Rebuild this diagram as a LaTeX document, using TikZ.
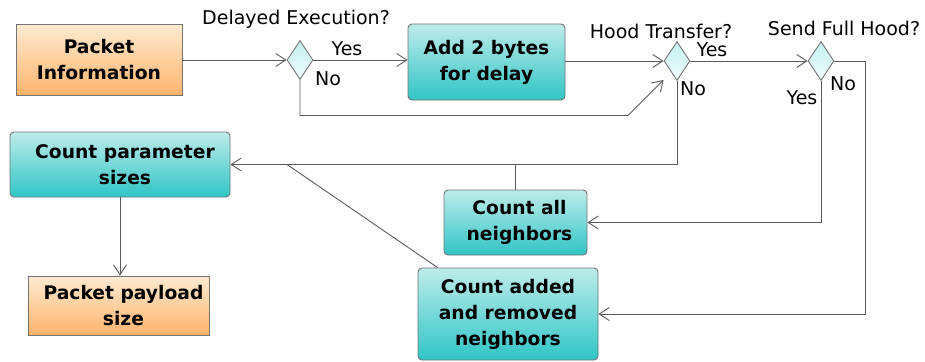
\documentclass[tikz,border=0pt]{standalone}
\usepackage{fontspec}
\setmainfont{DejaVu Sans}
\usetikzlibrary{shapes.geometric,arrows.meta,calc}
\definecolor{lineg}{HTML}{5A5A5A}
\definecolor{tealtop}{HTML}{BDECEA}
\definecolor{tealbot}{HTML}{30C5C6}
\definecolor{orgtop}{HTML}{FFEBD0}
\definecolor{orgbot}{HTML}{FDB46C}
\definecolor{dtop}{HTML}{C2EFEF}
\definecolor{dbot}{HTML}{F2FDFD}
\tikzset{
  procbox/.style={draw=lineg!85, line width=0.9pt, rounded corners=4pt, top color=tealtop, bottom color=tealbot, align=center, font=\fontsize{18.7}{26}\selectfont\bfseries, inner sep=0pt},
  databox/.style={draw=lineg!85, line width=0.9pt, top color=orgtop, bottom color=orgbot, align=center, font=\fontsize{18.7}{26}\selectfont\bfseries, inner sep=0pt},
  decision/.style={diamond, draw=lineg!85, line width=0.9pt, top color=dtop, bottom color=dbot, inner sep=0pt, minimum width=26pt, minimum height=39pt},
  lbl/.style={font=\fontsize{19}{22}\selectfont, inner sep=0pt},
  conn/.style={draw=lineg, line width=0.9pt},
  arr/.style={conn, -{Straight Barb[length=10pt,width=13pt,line width=0.9pt]}}
}
\begin{document}
\begin{tikzpicture}[x=1pt,y=-1pt]
\useasboundingbox (0,0) rectangle (925,361);
% boxes
\node[databox, minimum width=166pt, minimum height=71pt] (pi) at (99,60) {Packet\\Information};
\node[procbox, minimum width=157pt, minimum height=76pt] (add) at (486.5,62) {Add 2 bytes\\for delay};
\node[procbox, minimum width=220pt, minimum height=65pt] (cps) at (120,164.5) {\hspace*{10pt}Count parameter\\\hspace*{10pt}sizes};
\node[procbox, minimum width=143pt, minimum height=65pt] (call) at (515.5,222.5) {\hspace*{8pt}Count all\\\hspace*{8pt}neighbors};
\node[procbox, minimum width=180pt, minimum height=92pt] (cadd) at (508,314) {Count added\\and removed\\neighbors};
\node[databox, minimum width=181pt, minimum height=59pt] (pps) at (118.5,305.5) {\hspace*{10pt}Packet payload\\\hspace*{10pt}size};
% decisions
\node[decision] (d1) at (300,60) {};
\node[decision] (d2) at (677,61) {};
\node[decision] (d3) at (821,61) {};
% labels
\node[lbl] (l1) at (296,19) {Delayed Execution?};
\node[lbl] (l1y) at (347,49) {Yes};
\node[lbl] (l1n) at (328,79) {No};
\node[lbl] (l2) at (661,31) {Hood Transfer?};
\node[lbl] (l2y) at (712,50) {Yes};
\node[lbl] (l2n) at (693,89) {No};
\node[lbl] (l3) at (844,28) {Send Full Hood?};
\node[lbl] (l3n) at (843,84) {No};
\node[lbl] (l3y) at (802,98) {Yes};
% helper coordinates
\coordinate (nb) at (628,115.5);
\coordinate (rt) at (865,0);
\coordinate (jn) at (287,0);
% connectors
\draw[arr] (pi.east) -- (d1.west);
\draw[arr] (d1.east) -- (d1.east -| add.west);
\draw[arr] (d1.south) |- (nb) -- ($(d2.west |- d2.south)+(0,-1)$);
\draw[arr] (add.east |- d2.west) -- (d2.west);
\draw[arr] (d2.east) -- (d3.west);
\draw[arr] (d3.east) -- (d3.east -| rt) |- (cadd.east);
\draw[arr] (d3.south) |- (call.east);
\draw[arr] (d2.south) |- (cps.east);
\draw[conn] (call.north) -- (call.north |- cps.east);
\draw[conn] ($(cadd.north west)+(20,0)$) -- (jn |- cps.east);
\draw[arr] (cps.south) -- (cps.south |- pps.north);
\end{tikzpicture}
\end{document}
